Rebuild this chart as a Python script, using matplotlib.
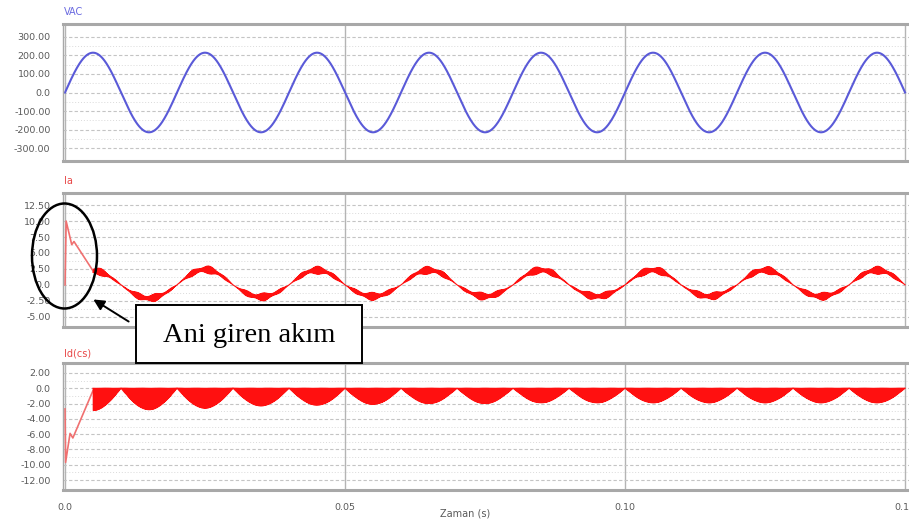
import numpy as np
import matplotlib.pyplot as plt
from matplotlib.patches import Ellipse, Rectangle, FancyArrowPatch

# axis ticks / labels
time_ticks = [0.0, 0.05, 0.10, 0.15]
time_labels = ['0.0', '0.05', '0.10', '0.15']
vac_ticks = [300, 200, 100, 0, -100, -200, -300]
vac_labels = ['300.00', '200.00', '100.00', '0.0', '-100.00', '-200.00', '-300.00']
ia_ticks = [12.5, 10, 7.5, 5, 2.5, 0, -2.5, -5]
ia_labels = ['12.50', '10.00', '7.50', '5.00', '2.50', '0.0', '-2.50', '-5.00']
id_ticks = [2, 0, -2, -4, -6, -8, -10, -12]
id_labels = ['2.00', '0.0', '-2.00', '-4.00', '-6.00', '-8.00', '-10.00', '-12.00']

# supply voltage
vac_peak = 215.0
line_freq = 50.0

# inrush part of the line current (time, value)
ia_inrush_t = [0.0, 0.0002, 0.0012, 0.0016, 0.0050]
ia_inrush_v = [0.0, 10.0, 6.3, 6.8, 2.2]
# peak of each half cycle after the inrush (0.01 s each)
ia_half_peaks = [2.2, -2.1, 2.4, -1.9, 2.3, -1.8, 2.3, -1.8, 2.3, -1.8, 2.3, -1.8, 2.3, -1.8, 2.3]
ia_ripple = 0.65

# inrush part of the dc-side current
id_inrush_t = [0.0, 0.0001, 0.0009, 0.0014, 0.0050]
id_inrush_v = [-2.7, -9.7, -5.9, -6.5, -0.3]
id_half_depths = [2.9, 2.8, 2.6, 2.3, 2.2, 2.1, 2.0, 2.0, 1.9, 1.9, 1.9, 1.9, 1.9, 1.9, 1.9]

f_sw = 5300.0   # switching frequency
f_mod = 310.0   # duty variation of the chopper

W, H = 909, 523
def fx(px): return px / W
def fy(py): return 1 - py / H

t = np.linspace(0, 0.15, 60001)
w = 2 * np.pi * line_freq
vac = vac_peak * np.sin(w * t)

half = np.minimum((t / 0.01).astype(int), 14)
carrier = 4 * np.abs((t * f_sw) % 1 - 0.5) - 1
duty = 0.45 * np.sin(2 * np.pi * f_mod * t)
sq = (carrier > duty).astype(float)
env = np.abs(np.sin(w * t))

ia = np.array(ia_half_peaks)[half] * env + ia_ripple * env * carrier * (0.7 + 0.3 * np.cos(2 * np.pi * f_mod * t))
idc = -np.array(id_half_depths)[half] * env * sq
steady = t >= 0.005

fig = plt.figure(figsize=(9.09, 5.23), dpi=100)

boxes = [(24, 161), (193, 327), (363, 490)]
axes = []
for top, bot in boxes:
    ax = fig.add_axes([fx(63), fy(bot), 1 - fx(63), fy(top) - fy(bot)])
    axes.append(ax)

ax1, ax2, ax3 = axes

ax1.plot(t, vac, color='#5a5ad8', lw=1.5)
ax1.set_ylim(-370, 370)
ax1.set_yticks(vac_ticks)
ax1.set_yticklabels(vac_labels)

ax2.plot(ia_inrush_t, ia_inrush_v, color='#f07070', lw=1.2)
ax2.plot(t[steady], ia[steady], color='#ff1010', lw=0.8)
ax2.set_ylim(-6.6, 14.4)
ax2.set_yticks(ia_ticks)
ax2.set_yticklabels(ia_labels)

ax3.plot(id_inrush_t, id_inrush_v, color='#f07070', lw=1.2)
ax3.plot(t[steady], idc[steady], color='#ff1010', lw=0.8)
ax3.set_ylim(-13.3, 3.3)
ax3.set_yticks(id_ticks)
ax3.set_yticklabels(id_labels)

for ax, ticks in zip(axes, [vac_ticks, ia_ticks, id_ticks]):
    ax.set_xlim(-0.00036, 0.1507)
    ax.set_xticks(time_ticks)
    step = ticks[0] - ticks[1]
    ax.set_yticks(np.array(ticks[:-1]) - step / 2, minor=True)
    ax.grid(axis='y', which='major', color='#c4c4c4', lw=0.8, ls=(0, (3, 2)))
    ax.grid(axis='y', which='minor', color='#dadada', lw=0.7, ls=(0, (1, 2)))
    ax.grid(axis='x', which='major', color='#b4b4b4', lw=1.0)
    ax.tick_params(length=0, labelsize=6.8, labelcolor='#5a5a5a', pad=9)
    ax.tick_params(which='minor', length=0)
    for s in ax.spines.values():
        s.set_color('#a8a8a8')
        s.set_linewidth(1.0)
    ax.spines['top'].set_linewidth(2.2)
    ax.spines['bottom'].set_linewidth(2.2)
    ax.spines['right'].set_visible(False)
    ax.set_axisbelow(True)

ax1.tick_params(labelbottom=False)
ax2.tick_params(labelbottom=False)
ax3.set_xticklabels(time_labels)
ax3.tick_params(axis='x', pad=9)

fig.text(fx(64), fy(12), 'VAC', color='#6a6ae0', fontsize=7, va='center')
fig.text(fx(64), fy(181), 'Ia', color='#e84848', fontsize=7, va='center')
fig.text(fx(64), fy(353), 'Id(cs)', color='#e84848', fontsize=7, va='center')
fig.text(fx(465), fy(513), 'Zaman (s)', color='#5a5a5a', fontsize=7, ha='center', va='center')

# inrush annotation
fig.add_artist(Ellipse((fx(64.5), fy(256)), 65 / W, 105 / H, transform=fig.transFigure,
                       fill=False, edgecolor='black', lw=1.8, zorder=5))
fig.add_artist(FancyArrowPatch((fx(131), fy(323)), (fx(91), fy(298)), transform=fig.transFigure,
                               arrowstyle='-|>', mutation_scale=16, color='black', lw=1.4, zorder=5))
fig.add_artist(Rectangle((fx(136), fy(363)), 226 / W, 58 / H, transform=fig.transFigure,
                         facecolor='white', edgecolor='black', lw=1.4, zorder=5))
fig.text(fx(249), fy(335), 'Ani giren akım', family='Liberation Serif', fontsize=20.5,
         ha='center', va='center', zorder=6)

fig.savefig('out.png', dpi=100)
